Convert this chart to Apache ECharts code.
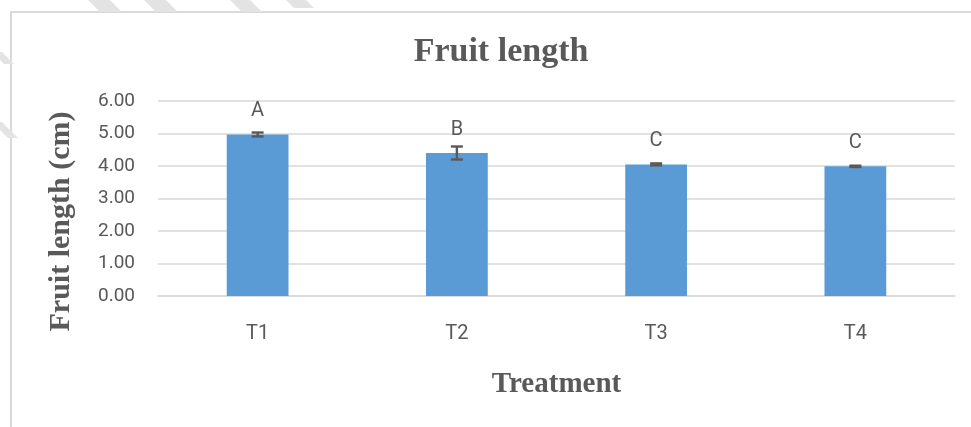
<!DOCTYPE html>
<html>
<head>
<meta charset="utf-8">
<script src="https://cdn.jsdelivr.net/npm/echarts@6/dist/echarts.min.js"></script>
<style>
  html, body { margin: 0; padding: 0; background: #fff; }
  #chart { width: 971px; height: 427px; }
</style>
</head>
<body>
<div id="chart"></div>
<script>
// 数据：处理组、均值、误差与显著性字母
const categories = ['T1', 'T2', 'T3', 'T4']
const means = [4.97, 4.40, 4.05, 3.99]
const errors = [0.06, 0.20, 0.03, 0.02]
const letters = ['A', 'B', 'C', 'C']
const yTicks = [0, 1, 2, 3, 4, 5, 6]

const gray = '#595959'
const lineGray = '#d9d9d9'

const chart = echarts.init(document.getElementById('chart'), null, { renderer: 'canvas' })

// 左上角的斜纹水印装饰
function stripe(x, y, w, len) {
  return {
    type: 'polygon',
    silent: true,
    shape: { points: [[x, y], [x + w, y], [x + w + len, y + len], [x + len, y + len]] },
    style: { fill: '#e3e3e3' }
  }
}

const option = {
  backgroundColor: '#fff',
  animation: false,
  title: {
    text: 'Fruit length',
    left: 496,
    top: 30,
    textAlign: 'center',
    textStyle: { fontFamily: 'Liberation Serif', fontWeight: 'bold', fontSize: 34, color: gray }
  },
  grid: { left: 158, right: 16, top: 101, bottom: 131 },
  xAxis: {
    type: 'category',
    data: categories,
    name: 'Treatment',
    nameLocation: 'middle',
    nameGap: 74,
    nameTextStyle: { fontFamily: 'Liberation Serif', fontWeight: 'bold', fontSize: 29, color: gray },
    axisLine: { lineStyle: { color: lineGray, width: 1.5 } },
    axisTick: { show: false },
    axisLabel: { fontFamily: 'Roboto', fontSize: 20, color: gray, margin: 28 }
  },
  yAxis: {
    type: 'value',
    min: yTicks[0],
    max: yTicks[yTicks.length - 1],
    interval: 1,
    name: 'Fruit length (cm)',
    nameLocation: 'middle',
    nameGap: 82,
    nameTextStyle: { fontFamily: 'Liberation Serif', fontWeight: 'bold', fontSize: 30, color: gray, padding: [0, 46, 0, 0] },
    axisLine: { show: false },
    axisTick: { show: false },
    splitLine: { lineStyle: { color: lineGray, width: 1.5 } },
    axisLabel: { fontFamily: 'Roboto', fontSize: 19, color: gray, margin: 23, formatter: v => v.toFixed(2) }
  },
  series: [
    {
      type: 'bar',
      data: means,
      barWidth: '31%',
      itemStyle: { color: '#5b9bd5' },
      label: {
        show: true,
        position: 'top',
        distance: 13,
        fontFamily: 'Roboto',
        fontSize: 20,
        color: gray,
        formatter: p => letters[p.dataIndex]
      }
    },
    {
      // 误差线
      type: 'custom',
      data: means.map((m, i) => [i, m - errors[i], m + errors[i]]),
      z: 5,
      renderItem: (params, api) => {
        const lo = api.coord([api.value(0), api.value(1)])
        const hi = api.coord([api.value(0), api.value(2)])
        const half = 6
        const style = { stroke: gray, lineWidth: 2.4 }
        return {
          type: 'group',
          children: [
            { type: 'line', shape: { x1: lo[0], y1: lo[1], x2: hi[0], y2: hi[1] }, style },
            { type: 'line', shape: { x1: hi[0] - half, y1: hi[1], x2: hi[0] + half, y2: hi[1] }, style },
            { type: 'line', shape: { x1: lo[0] - half, y1: lo[1], x2: lo[0] + half, y2: lo[1] }, style }
          ]
        }
      }
    }
  ],
  graphic: [
    {
      type: 'rect',
      silent: true,
      shape: { x: 11, y: 12, width: 1000, height: 500 },
      style: { fill: null, stroke: lineGray, lineWidth: 2 }
    },
    stripe(82, -6, 22, 18),
    stripe(138, -6, 22, 18),
    stripe(224, -6, 20, 18),
    stripe(280, -6, 20, 14),
    stripe(-8, 52, 10, 12),
    stripe(-8, 122, 10, 16)
  ]
}

chart.setOption(option)
</script>
</body>
</html>
